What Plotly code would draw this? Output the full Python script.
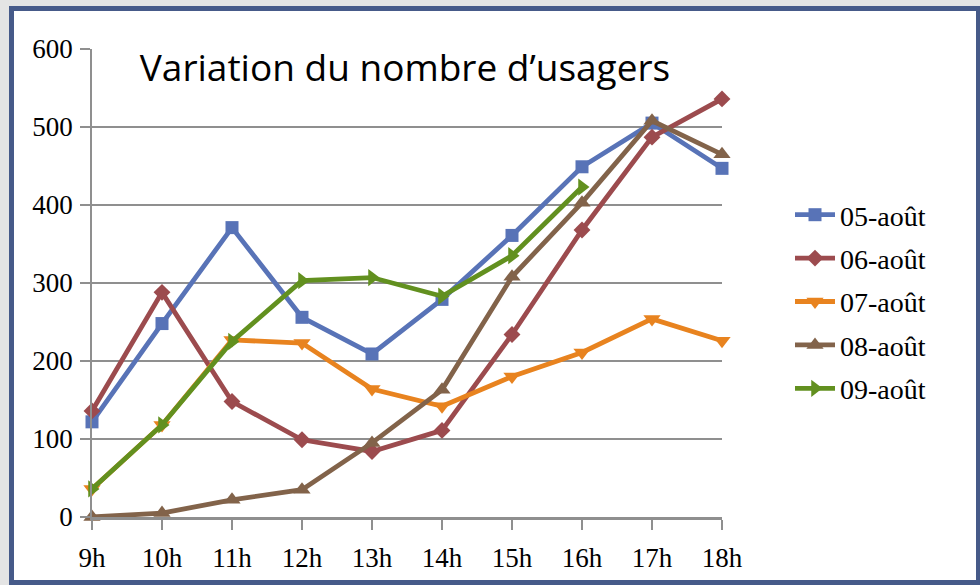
import plotly.graph_objects as go

hours = ["9h", "10h", "11h", "12h", "13h", "14h", "15h", "16h", "17h", "18h"]
s05 = [122, 248, 371, 256, 209, 279, 361, 449, 505, 447]
s06 = [136, 288, 148, 99, 84, 111, 234, 368, 487, 536]
s07 = [36, 118, 227, 223, 164, 142, 180, 211, 254, 226]
s08 = [0, 5, 22, 35, 95, 163, 308, 403, 508, 465]
s09 = [36, 118, 225, 303, 307, 283, 335, 423]
names = ["05-août", "06-août", "07-août", "08-août", "09-août"]
colors = ["#5873B7", "#9C4B4E", "#E8831F", "#82634A", "#62901F"]
symbols = ["square", "diamond", "triangle-down", "triangle-up", "triangle-right"]
sizes = [13, 13, 15, 15, 15]
title_text = "Variation du nombre d’usagers"

W, H = 980, 585
L, R, T, B = 92, 722, 49, 517

def px(x):
    return (x - L) / (R - L)

def py(y):
    return (B - y) / (B - T)

fig = go.Figure()
series = [s05, s06, s07, s08, s09]
for i, vals in enumerate(series):
    fig.add_trace(go.Scatter(
        x=hours[:len(vals)], y=vals, name=names[i], mode="lines+markers",
        line=dict(color=colors[i], width=4.8),
        marker=dict(symbol=symbols[i], size=sizes[i], color=colors[i]),
        cliponaxis=False, legendgroup=str(i),
    ))

grid = "#8F8F8F"
fig.update_layout(
    width=W, height=H,
    margin=dict(l=L, r=W - R, t=T, b=H - B, autoexpand=False),
    paper_bgcolor="#E4E4E4", plot_bgcolor="white",
    showlegend=True,
    legend=dict(
        x=px(790), y=py(190), xanchor="left", yanchor="top",
        font=dict(family="Liberation Serif", size=28, color="black"),
        bgcolor="rgba(0,0,0,0)", tracegroupgap=4, itemwidth=40,
    ),
    xaxis=dict(
        type="category", range=[0, 9], showgrid=False, automargin=False,
        showline=True, linecolor=grid, linewidth=2.5,
        ticks="outside", ticklen=10, tickcolor=grid, tickwidth=1.5,
        tickfont=dict(family="Liberation Serif", size=27, color="black"),
        ticklabelstandoff=5,
    ),
    yaxis=dict(
        range=[0, 600], tickvals=[0, 100, 200, 300, 400, 500, 600],
        showgrid=True, gridcolor=grid, gridwidth=2, automargin=False,
        showline=True, linecolor=grid, linewidth=1.5,
        ticks="outside", ticklen=10, tickcolor=grid, tickwidth=1.5,
        tickfont=dict(family="Liberation Serif", size=27, color="black"),
        ticklabelstandoff=2, zeroline=False,
    ),
    shapes=[
        dict(type="rect", xref="paper", yref="paper", layer="below",
             x0=px(11.5), x1=px(978.5), y0=py(8.5), y1=py(582.5),
             fillcolor="white", line=dict(color="#465A89", width=5)),
    ],
    annotations=[
        dict(text=title_text, xref="paper", yref="paper",
             x=px(405), y=py(66), xanchor="center", yanchor="middle",
             showarrow=False, bgcolor="white", width=568, height=48,
             font=dict(family="Open Sans", size=37, color="black")),
    ],
)

fig.write_html(
    "out.html",
    config={"displayModeBar": False},
    post_script="document.body.style.margin='0';document.body.style.overflow='hidden';",
)
